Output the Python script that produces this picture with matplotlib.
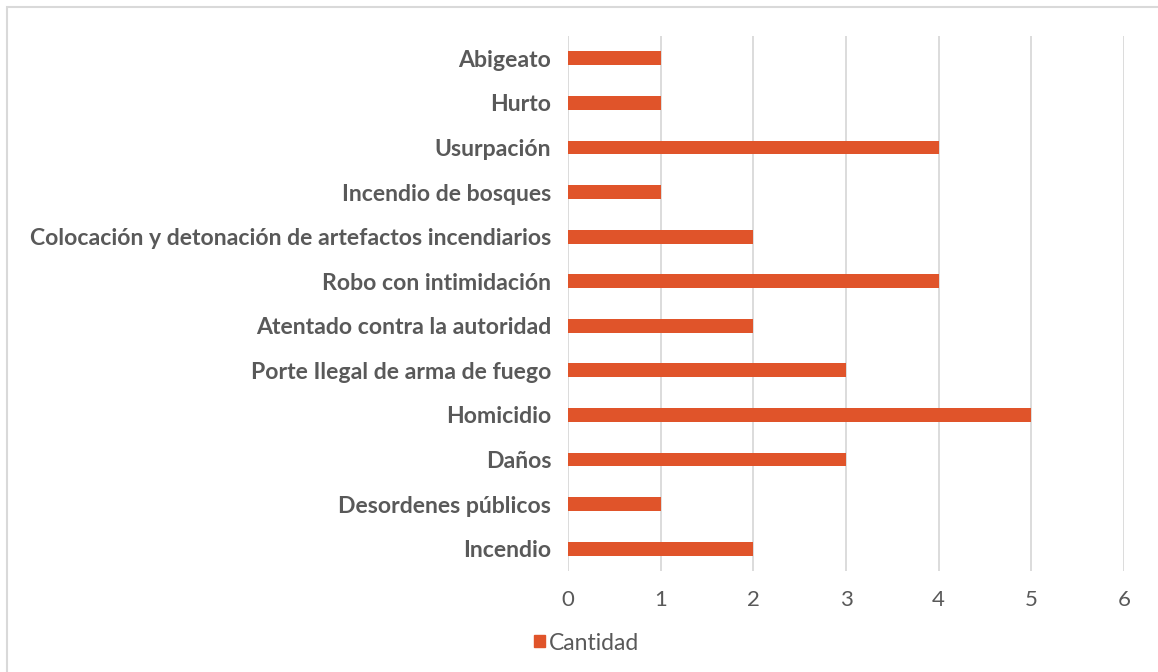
import matplotlib
matplotlib.use("Agg")
import matplotlib.pyplot as plt
from matplotlib.patches import Rectangle, Patch

categories = ["Abigeato", "Hurto", "Usurpación", "Incendio de bosques",
              "Colocación y detonación de artefactos incendiarios",
              "Robo con intimidación", "Atentado contra la autoridad",
              "Porte Ilegal de arma de fuego", "Homicidio", "Daños",
              "Desordenes públicos", "Incendio"]
values = [1, 1, 4, 1, 2, 4, 2, 3, 5, 3, 1, 2]
series_name = "Cantidad"
xticks = [0, 1, 2, 3, 4, 5, 6]

bar_color = "#E0542A"
text_color = "#595959"
grid_color = "#D9D9D9"

fig = plt.figure(figsize=(11.58, 6.72), dpi=100)
fig.patch.set_facecolor("white")
fig.patches.append(Rectangle((7/1158, -0.1), 1.2, 1 - 7/672 + 0.1,
                             transform=fig.transFigure, fill=False,
                             edgecolor="#D9D9D9", linewidth=1.5))

ax = fig.add_axes([568/1158, 1 - 571/672, (1124 - 568)/1158, (571 - 36)/672])
y = list(range(len(categories)))
ax.barh(y, values, height=0.31, color=bar_color, zorder=3)
ax.set_ylim(len(categories) - 0.5, -0.5)
ax.set_xlim(0, 6)
ax.set_yticks(y)
ax.set_yticklabels(categories, fontfamily="Lato", fontweight="bold",
                   fontsize=16.6, color=text_color)
ax.set_xticks(xticks)
ax.set_xticklabels([str(t) for t in xticks], fontfamily="Lato",
                   fontsize=16, color=text_color)
ax.tick_params(axis="both", length=0)
ax.tick_params(axis="y", pad=12)
ax.tick_params(axis="x", pad=14)
for t in xticks:
    ax.axvline(t, color=grid_color, linewidth=1.3, zorder=1)
for s in ax.spines.values():
    s.set_visible(False)

leg = fig.legend(handles=[Patch(color=bar_color, label=series_name)],
                 loc="center", bbox_to_anchor=(587/1158, 1 - 643/672),
                 frameon=False, handlelength=0.45, handleheight=0.45,
                 handletextpad=0.2,
                 prop={"family": "Lato", "size": 16.5})
for t in leg.get_texts():
    t.set_color(text_color)

fig.savefig("out.png", dpi=100, facecolor="white")
